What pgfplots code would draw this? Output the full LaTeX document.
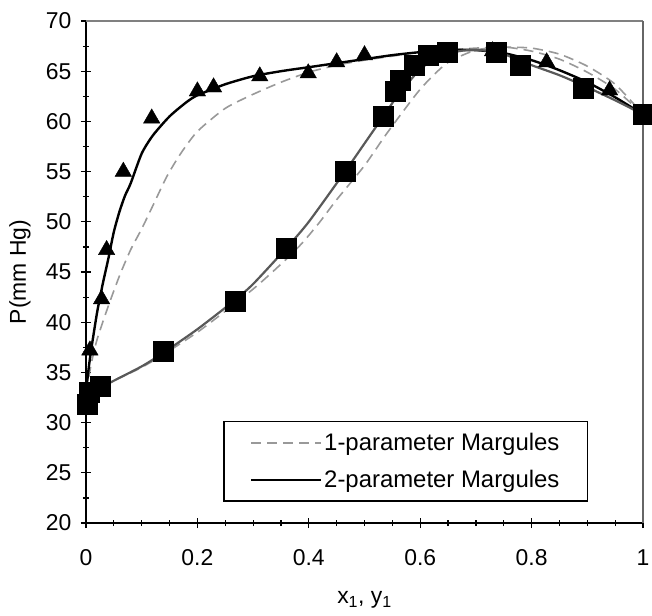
\documentclass[border=0pt]{standalone}
\usepackage{pgfplots}
\pgfplotsset{compat=1.18}
\usepackage{fontspec}
\setmainfont{Liberation Sans}
\begin{document}
\begin{tikzpicture}
\useasboundingbox (-86bp,-93bp) rectangle (566bp,523bp);
\begin{axis}[
  name=ax,
  at={(0,0)}, anchor=south west,
  scale only axis,
  width=557bp, height=502bp,
  xmin=0, xmax=1, ymin=20, ymax=70,
  xtick={0,0.2,0.4,0.6,0.8,1},
  xticklabels={0,0.2,0.4,0.6,0.8,1},
  ytick={20,25,...,70},
  minor x tick num=3,
  minor y tick num=1,
  axis x line*=bottom, axis y line*=left,
  axis line style={black, line width=1.6bp, -},
  tick style={black, line width=1.2bp},
  major tick length=10bp, minor tick length=6bp,
  tick align=center,
  /pgf/number format/assume math mode=true,
  ticklabel style={font=\fontsize{23}{27}\selectfont},
  xticklabel style={yshift=-18bp},
  yticklabel style={xshift=-6bp},
  xlabel={x\textsubscript{1}, y\textsubscript{1}},
  ylabel={P(mm Hg)},
  every axis x label/.style={at={(rel axis cs:0.5,0)}, yshift=-77bp, anchor=center, font=\fontsize{23}{27}\selectfont},
  every axis y label/.style={at={(rel axis cs:0,0.5)}, xshift=-66bp, rotate=90, anchor=center, font=\fontsize{23}{27}\selectfont},
  clip=false,
  legend style={at={(rel axis cs:0.246,0.042)}, anchor=south west,
    draw=black, line width=1.6bp, font=\fontsize{24}{28}\selectfont,
    inner xsep=26bp, inner ysep=10bp, row sep=14bp, fill=white,
    nodes={inner xsep=2bp, inner ysep=2bp}},
  legend cell align=left,
  legend image code/.code={\draw[#1] (0bp,0bp) -- (70bp,0bp);},
]
% 1-parameter Margules (dashed gray)
\addplot[gray!80, line width=1.6bp, dash pattern=on 10bp off 6bp, smooth, tension=0.4] coordinates {
(0,33.0)(0.01,36)(0.02,38.3)(0.04,41.6)(0.06,44.6)(0.08,47.2)(0.1,49.3)(0.12,51.6)
(0.145,54.5)(0.17,56.8)(0.2,59.0)(0.25,61.3)(0.3,62.7)(0.35,63.9)(0.4,64.9)
(0.45,65.6)(0.5,66.1)(0.55,66.5)(0.6,66.9)(0.65,67.1)(0.7,67.3)(0.75,67.4)
(0.8,67.3)(0.85,66.7)(0.9,65.5)(0.95,63.7)(1,60.7)};
\addlegendentry{1-parameter Margules}
% 2-parameter Margules dew (solid black)
\addplot[black, line width=2.4bp, smooth, tension=0.4] coordinates {
(0,33.0)(0.005,35.5)(0.01,37.5)(0.02,41)(0.03,43.8)(0.04,46.3)(0.05,49)(0.06,51)
(0.07,52.6)(0.08,53.8)(0.1,56.8)(0.12,58.6)(0.15,60.5)(0.18,61.9)(0.2,62.6)
(0.25,63.7)(0.3,64.5)(0.35,65.0)(0.4,65.4)(0.45,65.8)(0.5,66.2)(0.55,66.6)
(0.6,66.9)(0.65,67.1)(0.7,67.1)(0.75,66.8)(0.8,66.1)(0.85,65.1)(0.9,63.9)
(0.95,62.4)(1,60.7)};
\addlegendentry{2-parameter Margules}
% 1-parameter bubble (dashed)
\addplot[gray!80, line width=1.6bp, dash pattern=on 10bp off 6bp, smooth, tension=0.4, forget plot] coordinates {
(0,33)(0.1,35.5)(0.2,39.0)(0.3,43.3)(0.36,46.3)(0.39,48.0)(0.42,50.0)(0.45,52.2)
(0.5,55.6)(0.54,58.8)(0.6,63.2)(0.648,65.8)(0.7,67.1)(0.75,67.4)(0.8,67.0)
(0.85,66.2)(0.9,64.9)(0.95,63.2)(1,60.7)};
% 2-parameter bubble (solid dark gray)
\addplot[black!65, line width=2.2bp, smooth, tension=0.4, forget plot] coordinates {
(0,32.6)(0.03,33.6)(0.1,35.6)(0.14,37)(0.2,39.3)(0.265,42.1)(0.3,43.8)(0.36,47.4)
(0.4,50.0)(0.465,55)(0.5,57.8)(0.535,60.6)(0.56,62.6)(0.6,65.2)(0.63,66.3)
(0.67,67.0)(0.7,67.1)(0.74,66.9)(0.8,65.6)(0.85,64.6)(0.9,63.4)(0.95,62.1)(1,60.7)};
% experimental y1 (triangles)
\addplot[only marks, mark=triangle*, mark size=9.5bp, black, forget plot] coordinates {
(0.007,37.2)(0.028,42.3)(0.037,47.2)(0.067,55.0)(0.118,60.3)(0.20,63.0)(0.229,63.4)
(0.312,64.5)(0.399,64.8)(0.45,65.9)(0.50,66.6)(0.73,67.0)(0.827,65.9)(0.94,63.1)};
% experimental x1 (squares)
\addplot[only marks, mark=square*, mark size=10bp, black, forget plot] coordinates {
(0.003,31.8)(0.005,33.0)(0.025,33.6)(0.139,37.1)(0.267,42.1)(0.36,47.4)(0.465,55.0)
(0.534,60.5)(0.556,63.0)(0.564,64.1)(0.59,65.6)(0.615,66.6)(0.648,66.9)(0.737,66.9)
(0.779,65.6)(0.893,63.3)(1.0,60.7)};
\draw[gray, line width=2.4bp] (rel axis cs:0,1) -- (rel axis cs:1,1);
\draw[gray!80!black, line width=1.2bp] (rel axis cs:1,1) -- (rel axis cs:1,0);
\end{axis}
\end{tikzpicture}
\end{document}
